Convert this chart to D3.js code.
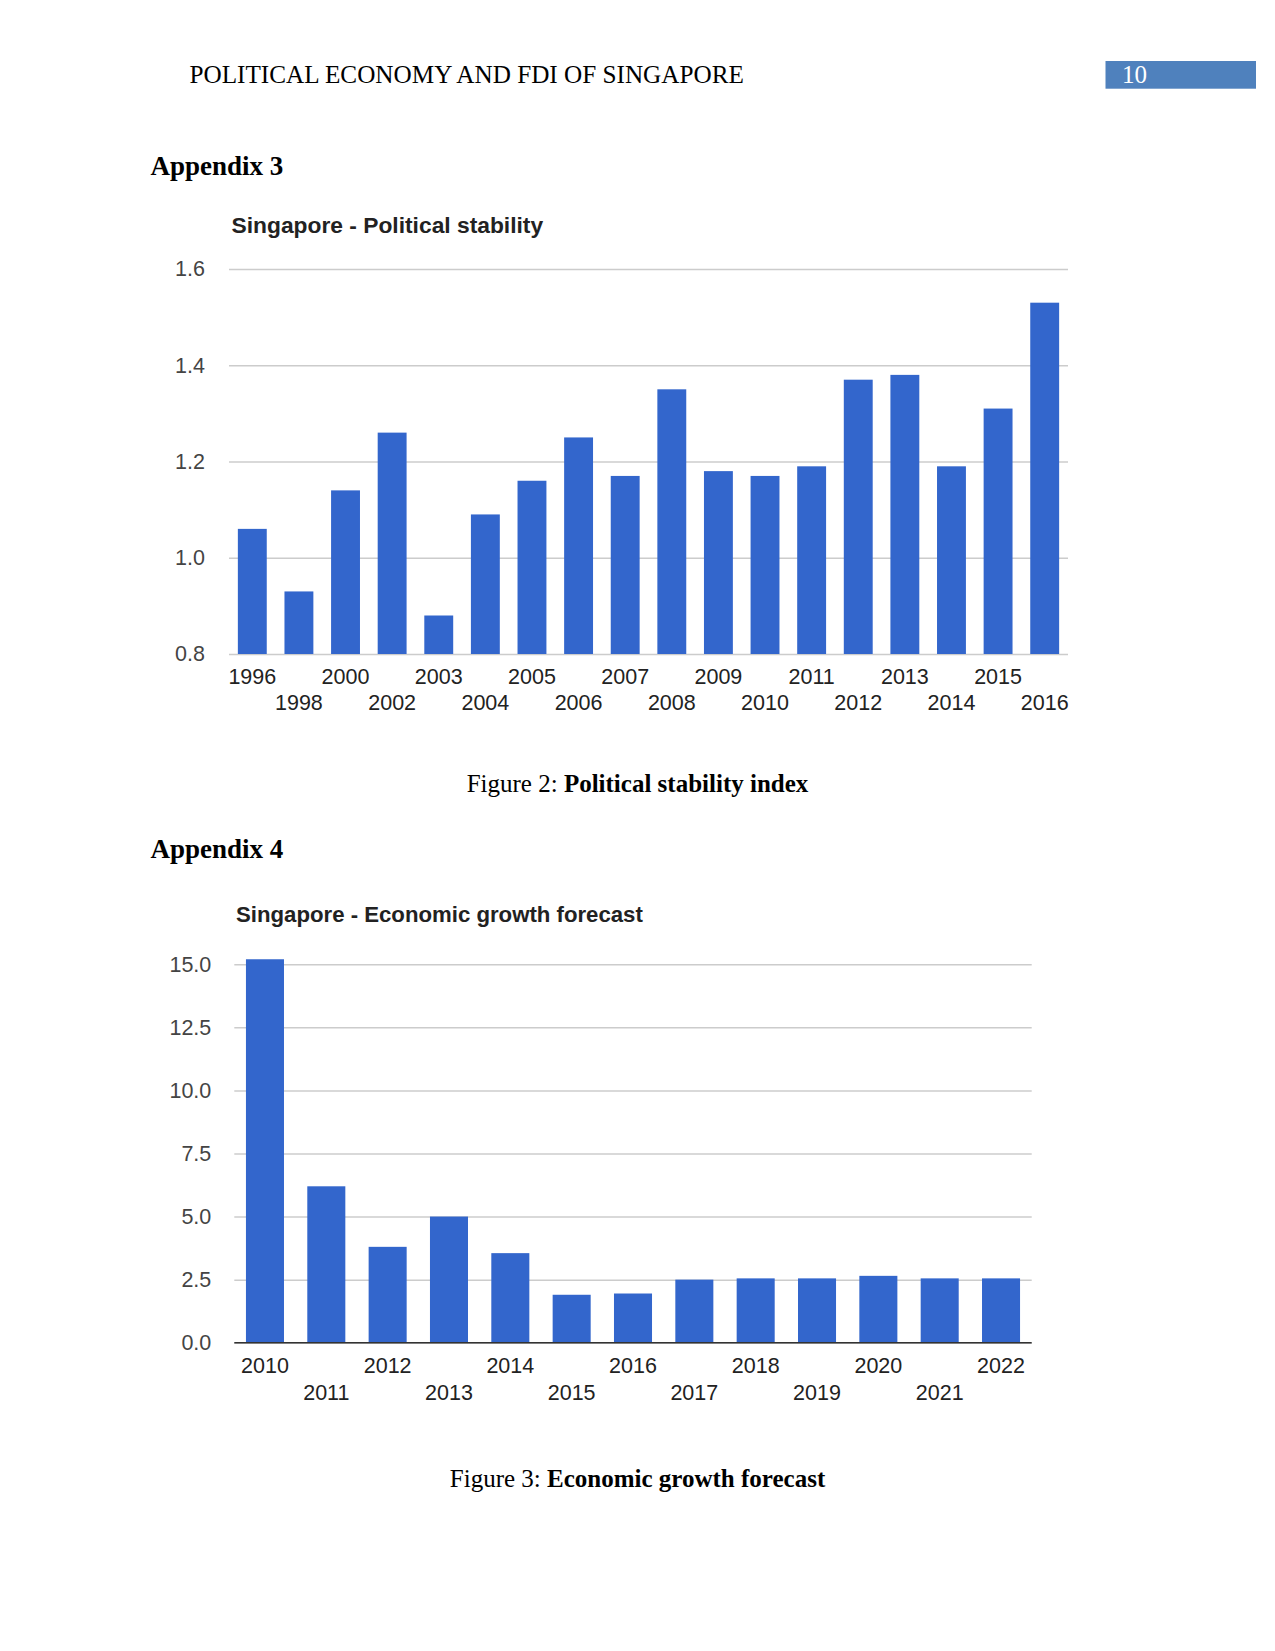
<!DOCTYPE html>
<html>
<head>
<meta charset="utf-8">
<script src="https://cdn.jsdelivr.net/npm/d3@7"></script>
<style>
  html, body { margin: 0; padding: 0; background: #fff; }
  svg { display: block; }
</style>
</head>
<body>
<svg id="page" width="1275" height="1651"></svg>
<script>
// ---- Data ----
const stabilityYears = ["1996","1998","2000","2002","2003","2004","2005","2006","2007","2008","2009","2010","2011","2012","2013","2014","2015","2016"];
const stabilityValues = [1.06,0.93,1.14,1.26,0.88,1.09,1.16,1.25,1.17,1.35,1.18,1.17,1.19,1.37,1.38,1.19,1.31,1.53];
const stabilityTicks = [0.8,1.0,1.2,1.4,1.6];

const growthYears = ["2010","2011","2012","2013","2014","2015","2016","2017","2018","2019","2020","2021","2022"];
const growthValues = [15.2,6.2,3.8,5.0,3.55,1.9,1.95,2.5,2.55,2.55,2.65,2.55,2.55];
const growthTicks = [0,2.5,5,7.5,10,12.5,15];

const svg = d3.select("#page");
svg.append("rect").attr("width",1275).attr("height",1651).attr("fill","#fff");

const serif = "'Liberation Serif','Times New Roman',serif";
const sans = "'Liberation Sans',Arial,sans-serif";

// ---- Page header ----
svg.append("text").attr("x",189.5).attr("y",83.3)
  .attr("font-family",serif).attr("font-size",25.2).attr("fill","#000")
  .text("POLITICAL ECONOMY AND FDI OF SINGAPORE");
svg.append("rect").attr("x",1105.5).attr("y",61).attr("width",150.5).attr("height",27.7).attr("fill","#4F81BD");
svg.append("text").attr("x",1122).attr("y",83.3)
  .attr("font-family",serif).attr("font-size",25).attr("fill","#fff").text("10");

function heading(txt, y) {
  svg.append("text").attr("x",150.5).attr("y",y)
    .attr("font-family",serif).attr("font-size",27).attr("font-weight","bold").attr("fill","#000").text(txt);
}
function caption(label, bold, y) {
  const t = svg.append("text").attr("x",637.5).attr("y",y).attr("text-anchor","middle")
    .attr("font-family",serif).attr("font-size",25).attr("fill","#000");
  t.append("tspan").text(label);
  t.append("tspan").attr("font-weight","bold").text(bold);
}

function barChart(opts) {
  const g = svg.append("g");
  const x = d3.scaleBand().domain(opts.cats).range([opts.x0, opts.x1]).paddingInner(0.38).paddingOuter(0.19);
  const y = d3.scaleLinear().domain(opts.domain).range([opts.yBottom, opts.yTop]);

  // title
  g.append("text").attr("x",opts.titleX).attr("y",opts.titleY)
    .attr("font-family",sans).attr("font-weight","bold").attr("font-size",opts.titleSize).attr("fill","#222")
    .text(opts.title);

  // y axis + gridlines
  const ya = g.append("g").attr("transform",`translate(${opts.x0},0)`)
    .call(d3.axisLeft(y).tickValues(opts.ticks).tickFormat(d3.format(".1f"))
      .tickSize(-(opts.x1-opts.x0)).tickPadding(opts.tickPad));
  ya.select(".domain").remove();
  ya.selectAll(".tick line").attr("stroke","#cccccc").attr("stroke-width",1.5);
  ya.selectAll(".tick text").attr("font-family",sans).attr("font-size",21.5).attr("fill","#444");

  // bars
  g.append("g").selectAll("rect").data(opts.values).join("rect")
    .attr("x",(d,i)=>x(opts.cats[i]))
    .attr("width",x.bandwidth())
    .attr("y",d=>y(d))
    .attr("height",d=>y(opts.domain[0])-y(d))
    .attr("fill","#3366CC");

  if (opts.darkBase) {
    g.append("line").attr("x1",opts.x0).attr("x2",opts.x1)
      .attr("y1",y(opts.domain[0])).attr("y2",y(opts.domain[0]))
      .attr("stroke","#333").attr("stroke-width",1.5);
  }

  // x axis (two staggered rows)
  const xa = g.append("g").attr("transform",`translate(0,${opts.yBottom})`)
    .call(d3.axisBottom(x).tickSize(0));
  xa.select(".domain").remove();
  xa.selectAll(".tick text")
    .attr("font-family",sans).attr("font-size",21.5).attr("fill","#222")
    .attr("dy",0)
    .attr("y",(d,i)=> i%2===0 ? opts.row1 : opts.row2);
}

// ---- Appendix 3 ----
heading("Appendix 3", 175);
barChart({
  cats: stabilityYears, values: stabilityValues, ticks: stabilityTicks,
  domain: [0.8,1.6], x0: 229, x1: 1068, yBottom: 654, yTop: 269,
  title: "Singapore - Political stability", titleX: 231.5, titleY: 233, titleSize: 22.8,
  tickPad: 24, row1: 30, row2: 56, darkBase: false
});
caption("Figure 2: ", "Political stability index", 792.3);

// ---- Appendix 4 ----
heading("Appendix 4", 858);
barChart({
  cats: growthYears, values: growthValues, ticks: growthTicks,
  domain: [0,15], x0: 234.3, x1: 1031.7, yBottom: 1342.7, yTop: 964.3,
  title: "Singapore - Economic growth forecast", titleX: 236, titleY: 921.7, titleSize: 22.2,
  tickPad: 23, row1: 30.6, row2: 57.3, darkBase: true
});
caption("Figure 3: ", "Economic growth forecast", 1487.3);
</script>
</body>
</html>
